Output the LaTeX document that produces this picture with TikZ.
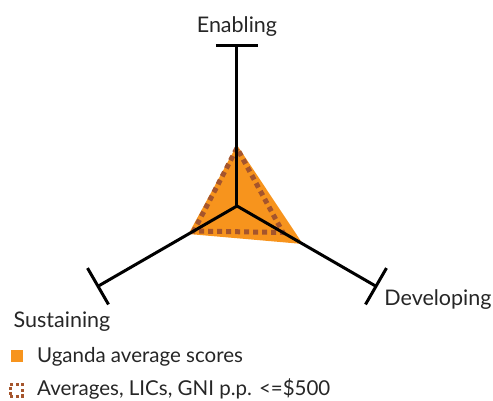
\documentclass[tikz,border=0pt]{standalone}
\usepackage{fontspec}
\setmainfont{Lato}
\usetikzlibrary{arrows.meta}
\definecolor{ugorange}{HTML}{F7941D}
\definecolor{avgbrown}{HTML}{A5552C}
\tikzset{
  axisline/.style={line width=3pt,-{Bar[width=42pt,line width=3pt]}},
  lbl/.style={font=\fontsize{21.5}{25}\selectfont,text=black!85,inner sep=0pt},
  keytext/.style={font=\fontsize{20.5}{24}\selectfont,text=black!85,inner sep=0pt,anchor=base west},
  avgline/.style={avgbrown,line width=5pt,dash pattern=on 5pt off 4pt}
}
\begin{document}
\begin{tikzpicture}[x=1pt,y=1pt]
        \useasboundingbox (-237,-194) rectangle (256,206);
        \coordinate (o) at (0,0);
        % ends of the three axes
        \coordinate (en) at (90:162);
        \coordinate (su) at (210:162);
        \coordinate (de) at (330:162);
        % Uganda scores
        \fill[ugorange] (90:61) -- (210:56) -- (330:76) -- cycle;
        % averages
        \draw[avgline] (90:58) -- (210:50) -- (330:53) -- cycle;
        % axes
        \draw[axisline] (o) -- (en);
        \draw[axisline] (o) -- (su);
        \draw[axisline] (o) -- (de);
        \node[lbl,anchor=base] (enlbl) at (0,174) {Enabling};
        \node[lbl,anchor=base] (sulbl) at (-175,-121) {Sustaining};
        \node[lbl,anchor=base] (delbl) at (201,-99) {Developing};
        % legend
        \node[fill=ugorange,minimum size=12pt,inner sep=0pt] (ugkey) at (-220,-150) {};
        \node[keytext] (ugtext) at (-200,-156) {Uganda average scores};
        \node[draw=avgbrown,line width=3pt,dash pattern=on 3pt off 2.5pt,minimum size=12pt,inner sep=0pt] (avgkey) at (-220.5,-184) {};
        \node[keytext] (avgtext) at (-200,-189) {Averages, LICs, GNI p.p. <=\$500};
      \end{tikzpicture}
\end{document}
